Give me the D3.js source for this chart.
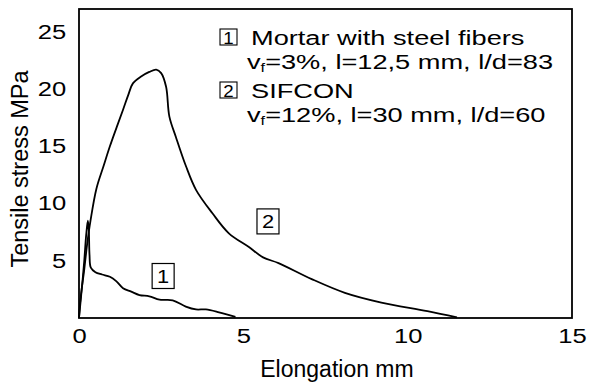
<!DOCTYPE html>
<html>
<head>
<meta charset="utf-8">
<script src="https://cdn.jsdelivr.net/npm/d3@7"></script>
<style>
  html, body { margin: 0; padding: 0; background: #fff; }
  svg { display: block; font-family: "Liberation Sans", Arial, sans-serif; }
</style>
</head>
<body>
<svg id="chart" width="590" height="383"></svg>
<script>
// curve 1: mortar with steel fibers (elongation mm, stress MPa)
const mortarElong = [0, 0.05, 0.10, 0.16, 0.22, 0.27, 0.30, 0.32, 0.36, 0.50, 0.70, 0.94, 1.14, 1.34, 1.59, 1.84, 2.14, 2.45, 2.85, 3.25, 3.56, 3.86, 4.26, 4.76]
const mortarStress = [0, 1.5, 3.0, 5.0, 7.3, 8.5, 7.5, 5.5, 4.4, 4.0, 3.8, 3.6, 3.2, 2.6, 2.3, 2.0, 1.9, 1.6, 1.55, 1.0, 0.75, 0.75, 0.5, 0.1]

// curve 2: SIFCON
const sifconElong = [0, 0.03, 0.08, 0.15, 0.25, 0.35, 0.53, 0.75, 0.94, 1.15, 1.34, 1.50, 1.64, 1.89, 2.14, 2.35, 2.50, 2.65, 2.75, 2.95, 3.25, 3.56, 4.06, 4.56, 5.17, 5.60, 6.07, 7.08, 8.09, 9.20, 10.6, 11.5]
const sifconStress = [0, 1.2, 2.5, 4.0, 6.5, 8.5, 11.3, 13.3, 15.0, 16.7, 18.2, 19.5, 20.5, 21.1, 21.5, 21.7, 21.4, 20.2, 17.6, 15.8, 13.3, 11.2, 9.15, 7.4, 6.2, 5.3, 4.8, 3.4, 2.2, 1.35, 0.6, 0.05]

const xTicks = [0, 5, 10, 15]
const yTicks = [5, 10, 15, 20, 25]

// numbered tags on the curves: [label, elongation, stress]
const curveTags = [["1", 2.56, 3.67], ["2", 5.75, 8.44]]

const legendLines = [
	{ tag: "1", text: "Mortar with steel fibers" },
	{ sub: "=3%, l=12,5 mm, l/d=83" },
	{ tag: "2", text: "SIFCON" },
	{ sub: "=12%, l=30 mm, l/d=60" },
]

const margin = {top: 9, right: 17, bottom: 65, left: 79}
const width = 590
const height = 383
const stretch = 1.28 // glyphs in the figure are drawn wide
const legStretch = 1.36

const svg = d3.select("#chart")

const x = d3.scaleLinear().domain([0, 15]).range([margin.left, width - margin.right - 1])
const y = d3.scaleLinear().domain([0, 27]).range([height - margin.bottom, margin.top])

// frame
svg.append("rect")
	.attr("x", x(0))
	.attr("y", y(27))
	.attr("width", x(15) - x(0))
	.attr("height", y(0) - y(27))
	.attr("fill", "none")
	.attr("stroke", "#000")
	.attr("stroke-width", 1.8)

const xAxis = svg.append("g")
	.attr("transform", "translate(0," + y(0) + ")")
	.call(d3.axisBottom(x).tickValues(xTicks).tickSize(0).tickPadding(11).tickFormat(d3.format("d")))
xAxis.select(".domain").remove()
xAxis.selectAll("text")
	.attr("font-size", 20)
	.attr("font-family", "Liberation Sans, Arial, sans-serif")
	.attr("fill", "#000")
	.attr("transform", "scale(" + stretch + ",1)")

const yAxis = svg.append("g")
	.attr("transform", "translate(" + x(0) + ",0)")
	.call(d3.axisLeft(y).tickValues(yTicks).tickSize(0).tickPadding(10).tickFormat(d3.format("d")))
yAxis.select(".domain").remove()
yAxis.selectAll("text")
	.attr("font-size", 20)
	.attr("font-family", "Liberation Sans, Arial, sans-serif")
	.attr("fill", "#000")
	.attr("transform", "scale(" + stretch + ",1)")

svg.append("text")
	.attr("x", 337)
	.attr("y", 377)
	.attr("text-anchor", "middle")
	.attr("font-size", 23)
	.attr("fill", "#000")
	.text("Elongation mm")

svg.append("text")
	.attr("transform", "translate(28,169) rotate(-90)")
	.attr("text-anchor", "middle")
	.attr("font-size", 23.5)
	.attr("fill", "#000")
	.text("Tensile stress MPa")

// curves
const line = d3.line()
	.x(d => x(d[0]))
	.y(d => y(d[1]))
	.curve(d3.curveCatmullRom.alpha(0.5))

const mortar = mortarElong.map((e, i) => [e, mortarStress[i]])
const sifcon = sifconElong.map((e, i) => [e, sifconStress[i]])

svg.append("path")
	.datum(sifcon)
	.attr("d", line)
	.attr("fill", "none")
	.attr("stroke", "#000")
	.attr("stroke-width", 1.8)

svg.append("path")
	.datum(mortar)
	.attr("d", line)
	.attr("fill", "none")
	.attr("stroke", "#000")
	.attr("stroke-width", 1.8)

// boxed number tags on the curves
const tags = svg.selectAll(".tag")
	.data(curveTags)
	.join("g")
	.attr("class", "tag")
	.attr("transform", d => "translate(" + x(d[1]) + "," + y(d[2]) + ")")
tags.append("rect")
	.attr("x", -11).attr("y", -12.5)
	.attr("width", 22).attr("height", 25)
	.attr("fill", "#fff")
	.attr("stroke", "#000")
	.attr("stroke-width", 1.2)
tags.append("text")
	.attr("text-anchor", "middle")
	.attr("y", 7)
	.attr("font-size", 19)
	.attr("fill", "#000")
	.attr("transform", "scale(1.15,1)")
	.text(d => d[0])

// legend
const legend = svg.append("g").attr("transform", "translate(220,0)")
const lineY = [45, 69, 98, 122]
legendLines.forEach((l, i) => {
	const g = legend.append("g").attr("transform", "translate(0," + lineY[i] + ")")
	if (l.tag) {
		g.append("rect")
			.attr("x", 0).attr("y", -16)
			.attr("width", 17).attr("height", 16)
			.attr("fill", "none")
			.attr("stroke", "#000")
			.attr("stroke-width", 1.1)
		g.append("text")
			.attr("x", 8.5 / 1.1)
			.attr("y", -1.5)
			.attr("text-anchor", "middle")
			.attr("font-size", 17)
			.attr("fill", "#000")
			.attr("transform", "scale(1.1,1)")
			.text(l.tag)
		g.append("text")
			.attr("x", 31 / legStretch)
			.attr("font-size", 20)
			.attr("fill", "#000")
			.attr("transform", "scale(" + legStretch + ",1)")
			.text(l.text)
	} else {
		const t = g.append("text")
			.attr("x", 27 / legStretch)
			.attr("font-size", 20)
			.attr("fill", "#000")
			.attr("transform", "scale(" + legStretch + ",1)")
		t.append("tspan").text("v")
		t.append("tspan").attr("font-size", 12).attr("dy", 3).text("f")
		t.append("tspan").attr("dy", -3).text(l.sub)
	}
})
</script>
</body>
</html>
